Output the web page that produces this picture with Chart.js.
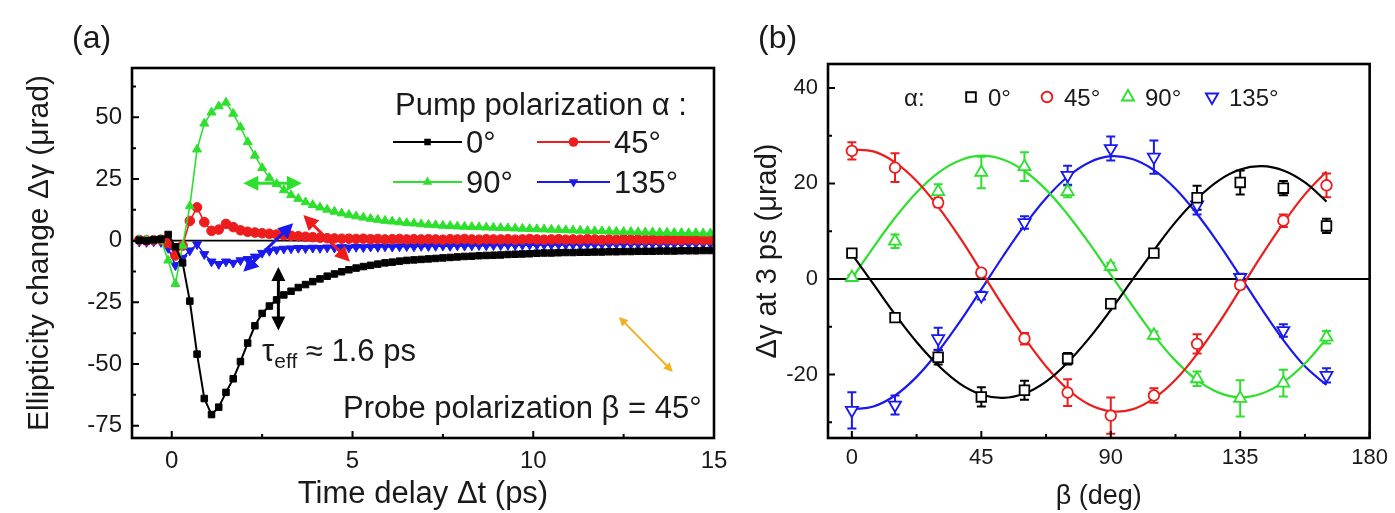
<!DOCTYPE html>
<html>
<head>
<meta charset="utf-8">
<script src="https://cdn.jsdelivr.net/npm/chart.js@4.4.1/dist/chart.umd.min.js"></script>
<style>
  html, body { margin: 0; padding: 0; background: #fff; }
  #wrap { position: relative; width: 1395px; height: 513px; overflow: hidden; }
  canvas { position: absolute; top: 0; }
  #chartA { left: 0; }
  #chartB { left: 740px; }
</style>
</head>
<body>
<div id="wrap">
  <canvas id="chartA" width="740" height="513"></canvas>
  <canvas id="chartB" width="655" height="513"></canvas>
</div>
<script>
const FONT = "'Liberation Sans', Arial, sans-serif";
const INK = '#1a1a1a';

// ---------- panel (a): ellipticity change vs time delay ----------
const delay = [
  -0.9, -0.7, -0.5, -0.3, -0.1, 0.1, 0.3, 0.5, 0.7, 0.9,
  1.1, 1.3, 1.5, 1.7, 1.9, 2.1, 2.3, 2.5, 2.7, 2.9,
  3.1, 3.3, 3.5, 3.7, 3.9, 4.1, 4.3, 4.5, 4.7, 4.9,
  5.1, 5.3, 5.5, 5.7, 5.9, 6.1, 6.3, 6.5, 6.7, 6.9,
  7.1, 7.3, 7.5, 7.7, 7.9, 8.1, 8.3, 8.5, 8.7, 8.9,
  9.1, 9.3, 9.5, 9.7, 9.9, 10.1, 10.3, 10.5, 10.7, 10.9,
  11.1, 11.3, 11.5, 11.7, 11.9, 12.1, 12.3, 12.5, 12.7, 12.9,
  13.1, 13.3, 13.5, 13.7, 13.9, 14.1, 14.3, 14.5, 14.7, 14.9
];
const pump0 = [
  0.2, -0.1, 0.3, 0.6, 2.5, -2.5, -9, -24.5, -46, -64,
  -70.5, -67.5, -61.5, -56, -49, -41.5, -34.5, -29.5, -26.5, -24,
  -22, -20.5, -19, -17.8, -16.6, -15.5, -14.4, -13.5, -12.6, -11.8,
  -11.1, -10.5, -10, -9.5, -9, -8.7, -8.3, -8, -7.8, -7.6,
  -7.4, -7.2, -7, -6.8, -6.6, -6.4, -6.3, -6.1, -6, -5.9,
  -5.8, -5.6, -5.5, -5.4, -5.3, -5.1, -5, -5, -4.9, -4.8,
  -4.8, -4.7, -4.7, -4.6, -4.6, -4.5, -4.5, -4.4, -4.4, -4.3,
  -4.3, -4.3, -4.2, -4.2, -4.2, -4.1, -4.1, -4.1, -4.0, -4.0
];
const pump45 = [
  0.3, 0.1, 0.2, 0.4, -1, -6, -2, 8, 13.5, 7.5,
  4, 4.5, 6.8, 5.5, 4.2, 3.6, 3.3, 3.0, 2.8, 2.5,
  2.2, 2.0, 1.8, 1.6, 1.4, 1.2, 1.0, 0.9, 0.8, 0.8,
  0.7, 0.8, 0.6, 0.7, 0.5, 0.6, 0.7, 0.5, 0.6, 0.5,
  0.6, 0.5, 0.4, 0.6, 0.5, 0.7, 0.5, 0.4, 0.6, 0.5,
  0.5, 0.6, 0.4, 0.5, 0.7, 0.5, 0.4, 0.5, 0.6, 0.4,
  0.5, 0.4, 0.6, 0.5, 0.3, 0.5, 0.4, 0.6, 0.4, 0.5,
  0.4, 0.5, 0.3, 0.5, 0.4, 0.3, 0.5, 0.4, 0.3, 0.4
];
const pump90 = [
  0.2, 0.3, 0.1, 0.4, -8, -17.5, -2, 14, 37, 47.5,
  52, 54.5, 56, 51.5, 46, 40, 34.5, 29.5, 25.5, 23,
  20.5, 18.5, 17, 15.6, 14.5, 13.5, 12.6, 11.8, 11.1, 10.5,
  9.9, 9.4, 8.9, 8.5, 8.1, 7.8, 7.5, 7.2, 7.0, 6.7,
  6.5, 6.3, 6.1, 6.0, 5.8, 5.7, 5.6, 5.5, 5.4, 5.3,
  5.2, 5.1, 5.0, 4.9, 4.8, 4.7, 4.6, 4.5, 4.4, 4.3,
  4.2, 4.1, 4.0, 3.9, 3.9, 3.8, 3.7, 3.6, 3.6, 3.5,
  3.4, 3.4, 3.3, 3.3, 3.2, 3.2, 3.1, 3.1, 3.0, 3.0
];
const pump135 = [
  -0.5, -0.6, -0.4, -0.6, -3, -10, -7, -4, -1.5, -5.5,
  -8.5, -9.5, -8.5, -9, -8, -7.5, -6.5, -5, -4.2, -3.6,
  -3.3, -3.2, -3.0, -3.1, -2.9, -3.0, -2.8, -2.9, -2.7, -2.8,
  -2.6, -2.7, -2.5, -2.6, -2.4, -2.5, -2.4, -2.3, -2.4, -2.2,
  -2.3, -2.2, -2.1, -2.2, -2.0, -2.1, -2.0, -1.9, -2.0, -1.9,
  -1.9, -1.8, -1.9, -1.8, -1.7, -1.8, -1.7, -1.7, -1.6, -1.7,
  -1.6, -1.6, -1.5, -1.6, -1.5, -1.5, -1.4, -1.5, -1.4, -1.4,
  -1.4, -1.3, -1.4, -1.3, -1.3, -1.2, -1.3, -1.2, -1.2, -1.2
];
const delayTicks = [0, 5, 10, 15];
const delayMinor = [2.5, 7.5, 12.5];
const ellipTicks = [-75, -50, -25, 0, 25, 50];
const ellipMinor = [-62.5, -37.5, -12.5, 12.5, 37.5, 62.5];

// ---------- panel (b): change at 3 ps vs probe angle ----------
const beta = [0, 15, 30, 45, 60, 75, 90, 105, 120, 135, 150, 165];
const dg0 = [5.4, -8.1, -16.4, -24.7, -23.3, -16.7, -5.2, 5.4, 17, 20.2, 19, 11.1];
const dg0Err = [0.8, 0.8, 1.5, 2, 2, 1.2, 0.8, 0.8, 2.5, 2.5, 1.5, 1.5];
const dg45 = [26.8, 23.3, 16, 1.3, -12.5, -23.8, -28.6, -24.4, -13.6, -1.3, 12.2, 19.6];
const dg45Err = [1.8, 3, 1, 0.8, 1.2, 2.8, 3.8, 1.5, 2, 0.8, 1.3, 2.5];
const dg90 = [0.3, 7.9, 18.3, 22.3, 23.5, 18.3, 2.6, -11.8, -20.9, -25, -21.8, -12.2];
const dg90Err = [0.5, 1.4, 1.5, 3.3, 3, 1.2, 0.8, 0.8, 1.5, 3.8, 2.8, 1.3];
const dg135 = [-27.5, -26.4, -12.5, -3.5, 11.8, 21.7, 27.3, 25.5, 15.5, 0.3, -10.8, -20.2];
const dg135Err = [3.8, 2, 2.3, 0.8, 1.3, 2, 2.5, 3.5, 2, 0.8, 1.3, 1.5];

const fitBeta = [0, 7.5, 15, 22.5, 30, 37.5, 45, 52.5, 60, 67.5, 75, 82.5,
                 90, 97.5, 105, 112.5, 120, 127.5, 135, 142.5, 150, 157.5, 165];
const fit0 = [5.2, -1.1, -7.4, -13.2, -18.1, -21.9, -24.2, -24.9, -24.0, -21.5, -17.5, -12.4,
              -6.5, -0.2, 6.0, 11.9, 16.8, 20.6, 22.9, 23.6, 22.7, 20.2, 16.2];
const fit45 = [27.1, 26.7, 24.4, 20.5, 15.1, 8.7, 1.6, -5.6, -12.3, -18.3, -23.1, -26.3,
               -27.7, -27.3, -25.0, -21.1, -15.7, -9.3, -2.2, 5.0, 11.7, 17.7, 22.5];
const fit90 = [0.1, 6.6, 12.8, 18.1, 22.2, 24.8, 25.8, 25.0, 22.6, 18.7, 13.5, 7.5,
               0.9, -5.6, -11.8, -17.1, -21.2, -23.8, -24.8, -24.0, -21.6, -17.7, -12.5];
const fit135 = [-27.3, -26.7, -24.4, -20.5, -15.2, -9.0, -2.2, 4.7, 11.2, 16.9, 21.4, 24.4,
                25.7, 25.1, 22.8, 18.9, 13.6, 7.4, 0.6, -6.3, -12.8, -18.3, -22.2];
const betaTicks = [0, 45, 90, 135, 180];
const betaMinor = [22.5, 67.5, 112.5, 157.5];
const dgTicks = [-20, 0, 20, 40];
const dgMinor = [-30, -10, 10, 30];

const COL = { black: '#000000', red: '#ee1d1d', green: '#2ee02e', blue: '#1a1aee', orange: '#f2b01e' };

// ---------- helpers ----------
function marker(ctx, style, x, y, r, stroke, fill, lw) {
  ctx.beginPath();
  if (style === 'rect') {
    const s = r * Math.SQRT1_2;
    ctx.rect(x - s, y - s, 2 * s, 2 * s);
  } else if (style === 'circle') {
    ctx.arc(x, y, r, 0, Math.PI * 2);
  } else {
    const d = style === 'down' ? -1 : 1;
    ctx.moveTo(x, y - d * r);
    ctx.lineTo(x + r * 0.866, y + d * r / 2);
    ctx.lineTo(x - r * 0.866, y + d * r / 2);
    ctx.closePath();
  }
  if (fill) { ctx.fillStyle = fill; ctx.fill(); }
  if (lw) { ctx.lineWidth = lw; ctx.strokeStyle = stroke; ctx.stroke(); }
}

function arrow(ctx, x1, y1, x2, y2, color, width, head) {
  const a = Math.atan2(y2 - y1, x2 - x1);
  ctx.strokeStyle = color;
  ctx.fillStyle = color;
  ctx.lineWidth = width;
  ctx.beginPath();
  ctx.moveTo(x1 + Math.cos(a) * head * 0.7, y1 + Math.sin(a) * head * 0.7);
  ctx.lineTo(x2 - Math.cos(a) * head * 0.7, y2 - Math.sin(a) * head * 0.7);
  ctx.stroke();
  [[x2, y2, a], [x1, y1, a + Math.PI]].forEach(([x, y, t]) => {
    const bx = x - head * Math.cos(t), by = y - head * Math.sin(t);
    const w = head * 0.5;
    ctx.beginPath();
    ctx.moveTo(x, y);
    ctx.lineTo(bx + w * Math.sin(t), by - w * Math.cos(t));
    ctx.lineTo(bx - w * Math.sin(t), by + w * Math.cos(t));
    ctx.closePath();
    ctx.fill();
  });
}

function fixedTicks(values) {
  return scale => { scale.ticks = values.map(v => ({ value: v })); };
}

// frame, inward ticks and zero line
const framePlugin = {
  id: 'frame',
  beforeDatasetsDraw(chart, args, opts) {
    const { ctx, chartArea: a } = chart;
    const y0 = chart.scales.y.getPixelForValue(0);
    ctx.save();
    ctx.strokeStyle = '#000';
    ctx.lineWidth = opts.zeroWidth;
    ctx.beginPath();
    ctx.moveTo(a.left, y0);
    ctx.lineTo(a.right, y0);
    ctx.stroke();
    ctx.restore();
  },
  afterDraw(chart, args, opts) {
    const { ctx, chartArea: a } = chart;
    const xs = chart.scales.x, ys = chart.scales.y;
    ctx.save();
    ctx.strokeStyle = '#000';
    ctx.lineWidth = 2;
    ctx.beginPath();
    opts.xMajor.forEach(v => { const p = xs.getPixelForValue(v); ctx.moveTo(p, a.bottom); ctx.lineTo(p, a.bottom - 7); });
    opts.xMinor.forEach(v => { const p = xs.getPixelForValue(v); ctx.moveTo(p, a.bottom); ctx.lineTo(p, a.bottom - 4); });
    opts.yMajor.forEach(v => { const p = ys.getPixelForValue(v); ctx.moveTo(a.left, p); ctx.lineTo(a.left + 7, p); });
    opts.yMinor.forEach(v => { const p = ys.getPixelForValue(v); ctx.moveTo(a.left, p); ctx.lineTo(a.left + 4, p); });
    ctx.stroke();
    ctx.lineWidth = 2.6;
    ctx.strokeRect(a.left, a.top, a.right - a.left, a.bottom - a.top);
    ctx.restore();
  }
};

function axisOpts(min, max, ticks, size, pad, title, titleSize, titlePad, fitKey, fitVal) {
  return {
    type: 'linear', min, max,
    afterBuildTicks: fixedTicks(ticks),
    ticks: { font: { family: FONT, size }, color: INK, padding: pad, includeBounds: false },
    grid: { display: false, drawTicks: false },
    border: { display: false },
    title: { display: true, text: title, color: INK, font: { family: FONT, size: titleSize, lineHeight: 1 }, padding: titlePad },
    afterFit: s => { s[fitKey] = fitVal; }
  };
}

// ---------- chart (a) ----------
function seriesA(label, ys, color, style, rot, r, order, lw) {
  return {
    label, order,
    data: delay.map((t, i) => ({ x: t, y: ys[i] })),
    showLine: true, borderColor: color, backgroundColor: color, borderWidth: lw,
    pointStyle: style, rotation: rot, pointRadius: r, pointBorderWidth: 1, pointBorderColor: color
  };
}

const annotA = {
  id: 'annotA',
  afterDatasetsDraw(chart) {
    const { ctx } = chart;
    const xs = chart.scales.x, ys = chart.scales.y;
    const P = (x, y) => [xs.getPixelForValue(x), ys.getPixelForValue(y)];
    const arrows = [
      [1.98, 23.3, 3.6, 23.3, COL.green, 3, 15],
      [1.98, -12.6, 3.36, 7.1, COL.blue, 3, 15],
      [3.64, 10.4, 4.93, -8.5, COL.red, 3, 15],
      [2.95, -10.7, 2.95, -36.4, COL.black, 3, 14],
      [12.37, -30.9, 13.86, -53.2, COL.orange, 2, 9]
    ];
    ctx.save();
    arrows.forEach(([x1, y1, x2, y2, c, w, h]) => {
      const [a1, b1] = P(x1, y1), [a2, b2] = P(x2, y2);
      arrow(ctx, a1, b1, a2, b2, c, w, h);
    });
    ctx.restore();
  },
  afterDraw(chart) {
    const { ctx } = chart;
    ctx.save();
    ctx.fillStyle = INK;
    ctx.textBaseline = 'alphabetic';
    ctx.font = '32px ' + FONT;
    ctx.fillText('(a)', 72, 48);
    ctx.font = '31px ' + FONT;
    ctx.fillText('Pump polarization \u03b1 :', 395, 115);
    ctx.fillText('Probe polarization \u03b2 = 45\u00b0', 343, 418);
    // tau_eff annotation
    ctx.fillText('\u03c4', 262, 361);
    let x = 262 + ctx.measureText('\u03c4').width;
    ctx.font = '21px ' + FONT;
    ctx.fillText('eff', x, 368);
    x += ctx.measureText('eff').width;
    ctx.font = '31px ' + FONT;
    ctx.fillText(' \u2248 1.6 ps', x, 361);
    // legend
    const rows = [
      [393, 462, 142, 0, 'rect', 4.6, '0\u00b0'],
      [537, 610, 142, 1, 'circle', 4.8, '45\u00b0'],
      [393, 462, 182, 2, 'up', 5.5, '90\u00b0'],
      [537, 610, 182, 3, 'down', 5.5, '135\u00b0']
    ];
    rows.forEach(([l, r, y, di, st, rad, txt]) => {
      const c = chart.data.datasets[di].borderColor;
      ctx.strokeStyle = c;
      ctx.lineWidth = 2;
      ctx.beginPath(); ctx.moveTo(l, y); ctx.lineTo(r, y); ctx.stroke();
      marker(ctx, st, (l + r) / 2, y, rad, c, c, 0);
      ctx.fillStyle = INK;
      ctx.font = '31px ' + FONT;
      ctx.fillText(txt, r + 4, y + 11);
    });
    ctx.restore();
  }
};

new Chart(document.getElementById('chartA'), {
  type: 'scatter',
  data: {
    datasets: [
      seriesA('0\u00b0', pump0, COL.black, 'rect', 0, 4.6, 0, 2),
      seriesA('45\u00b0', pump45, COL.red, 'circle', 0, 4.8, 2, 1.6),
      seriesA('90\u00b0', pump90, COL.green, 'triangle', 0, 5.2, 1, 1.6),
      seriesA('135\u00b0', pump135, COL.blue, 'triangle', 180, 5.2, 3, 1.6)
    ]
  },
  options: {
    responsive: false,
    animation: false,
    layout: { padding: { top: 68, right: 26, left: 0, bottom: 0 } },
    plugins: {
      legend: { display: false },
      tooltip: { enabled: false },
      frame: { xMajor: delayTicks, xMinor: delayMinor, yMajor: ellipTicks, yMinor: ellipMinor, zeroWidth: 1.6 }
    },
    scales: {
      x: axisOpts(-1.1, 15, delayTicks, 24, 9, 'Time delay \u0394t (ps)', 31, { top: 0, bottom: 3 }, 'height', 75),
      y: axisOpts(-80, 70, ellipTicks, 24, 10, 'Ellipticity change \u0394\u03b3 (\u03bcrad)', 30, { top: 25, bottom: 0 }, 'width', 132)
    }
  },
  plugins: [framePlugin, annotA]
});

// ---------- chart (b) ----------
function fitB(ys, color) {
  return {
    data: fitBeta.map((b, i) => ({ x: b, y: ys[i] })),
    showLine: true, borderColor: color, borderWidth: 2.2, pointRadius: 0,
    tension: 0.4, order: 2
  };
}
function pointsB(label, ys, errs, color, style, rot, r) {
  return {
    label, errs,
    data: beta.map((b, i) => ({ x: b, y: ys[i] })),
    showLine: false, borderColor: color, backgroundColor: '#ffffff',
    pointStyle: style, rotation: rot, pointRadius: r, pointBorderWidth: 1.8, order: 1
  };
}

const errorBars = {
  id: 'errorBars',
  beforeDatasetsDraw(chart) {
    const { ctx } = chart;
    const xs = chart.scales.x, ys = chart.scales.y;
    ctx.save();
    ctx.lineWidth = 2;
    chart.data.datasets.forEach(ds => {
      if (!ds.errs) return;
      ctx.strokeStyle = ds.borderColor;
      ctx.beginPath();
      ds.data.forEach((p, i) => {
        const x = xs.getPixelForValue(p.x);
        const top = ys.getPixelForValue(p.y + ds.errs[i]);
        const bot = ys.getPixelForValue(p.y - ds.errs[i]);
        ctx.moveTo(x, top); ctx.lineTo(x, bot);
        ctx.moveTo(x - 4.5, top); ctx.lineTo(x + 4.5, top);
        ctx.moveTo(x - 4.5, bot); ctx.lineTo(x + 4.5, bot);
      });
      ctx.stroke();
    });
    ctx.restore();
  }
};

const annotB = {
  id: 'annotB',
  afterDraw(chart) {
    const { ctx } = chart;
    ctx.save();
    ctx.fillStyle = INK;
    ctx.textBaseline = 'alphabetic';
    ctx.font = '32px ' + FONT;
    ctx.fillText('(b)', 18, 48);
    ctx.font = '24px ' + FONT;
    ctx.fillText('\u03b1:', 164, 106);
    const items = [
      [231, 'rect', 6.8, '0\u00b0'],
      [307, 'circle', 5.3, '45\u00b0'],
      [388, 'up', 7, '90\u00b0'],
      [472, 'down', 7, '135\u00b0']
    ];
    items.forEach(([x, st, r, txt], i) => {
      const ds = chart.data.datasets.filter(d => d.errs)[i];
      marker(ctx, st, x, 97, r, ds.borderColor, '#ffffff', 1.9);
      ctx.fillStyle = INK;
      ctx.fillText(txt, x + 17, 106);
    });
    ctx.restore();
  }
};

new Chart(document.getElementById('chartB'), {
  type: 'scatter',
  data: {
    datasets: [
      fitB(fit0, COL.black), fitB(fit45, COL.red), fitB(fit90, COL.green), fitB(fit135, COL.blue),
      pointsB('0\u00b0', dg0, dg0Err, COL.black, 'rect', 0, 6.8),
      pointsB('45\u00b0', dg45, dg45Err, COL.red, 'circle', 0, 5.3),
      pointsB('90\u00b0', dg90, dg90Err, COL.green, 'triangle', 0, 7),
      pointsB('135\u00b0', dg135, dg135Err, COL.blue, 'triangle', 180, 7)
    ]
  },
  options: {
    responsive: false,
    animation: false,
    layout: { padding: { top: 64, right: 23, left: 0, bottom: 0 } },
    plugins: {
      legend: { display: false },
      tooltip: { enabled: false },
      frame: { xMajor: betaTicks, xMinor: betaMinor, yMajor: dgTicks, yMinor: dgMinor, zeroWidth: 2 }
    },
    scales: {
      x: axisOpts(-8.3, 180, betaTicks, 22, 7, '\u03b2 (deg)', 27, { top: 0, bottom: 2.5 }, 'height', 75),
      y: axisOpts(-33.3, 45, dgTicks, 22, 10, '\u0394\u03b3 at 3 ps (\u03bcrad)', 29, { top: 13.5, bottom: 0 }, 'width', 88)
    }
  },
  plugins: [framePlugin, errorBars, annotB]
});
</script>
</body>
</html>
